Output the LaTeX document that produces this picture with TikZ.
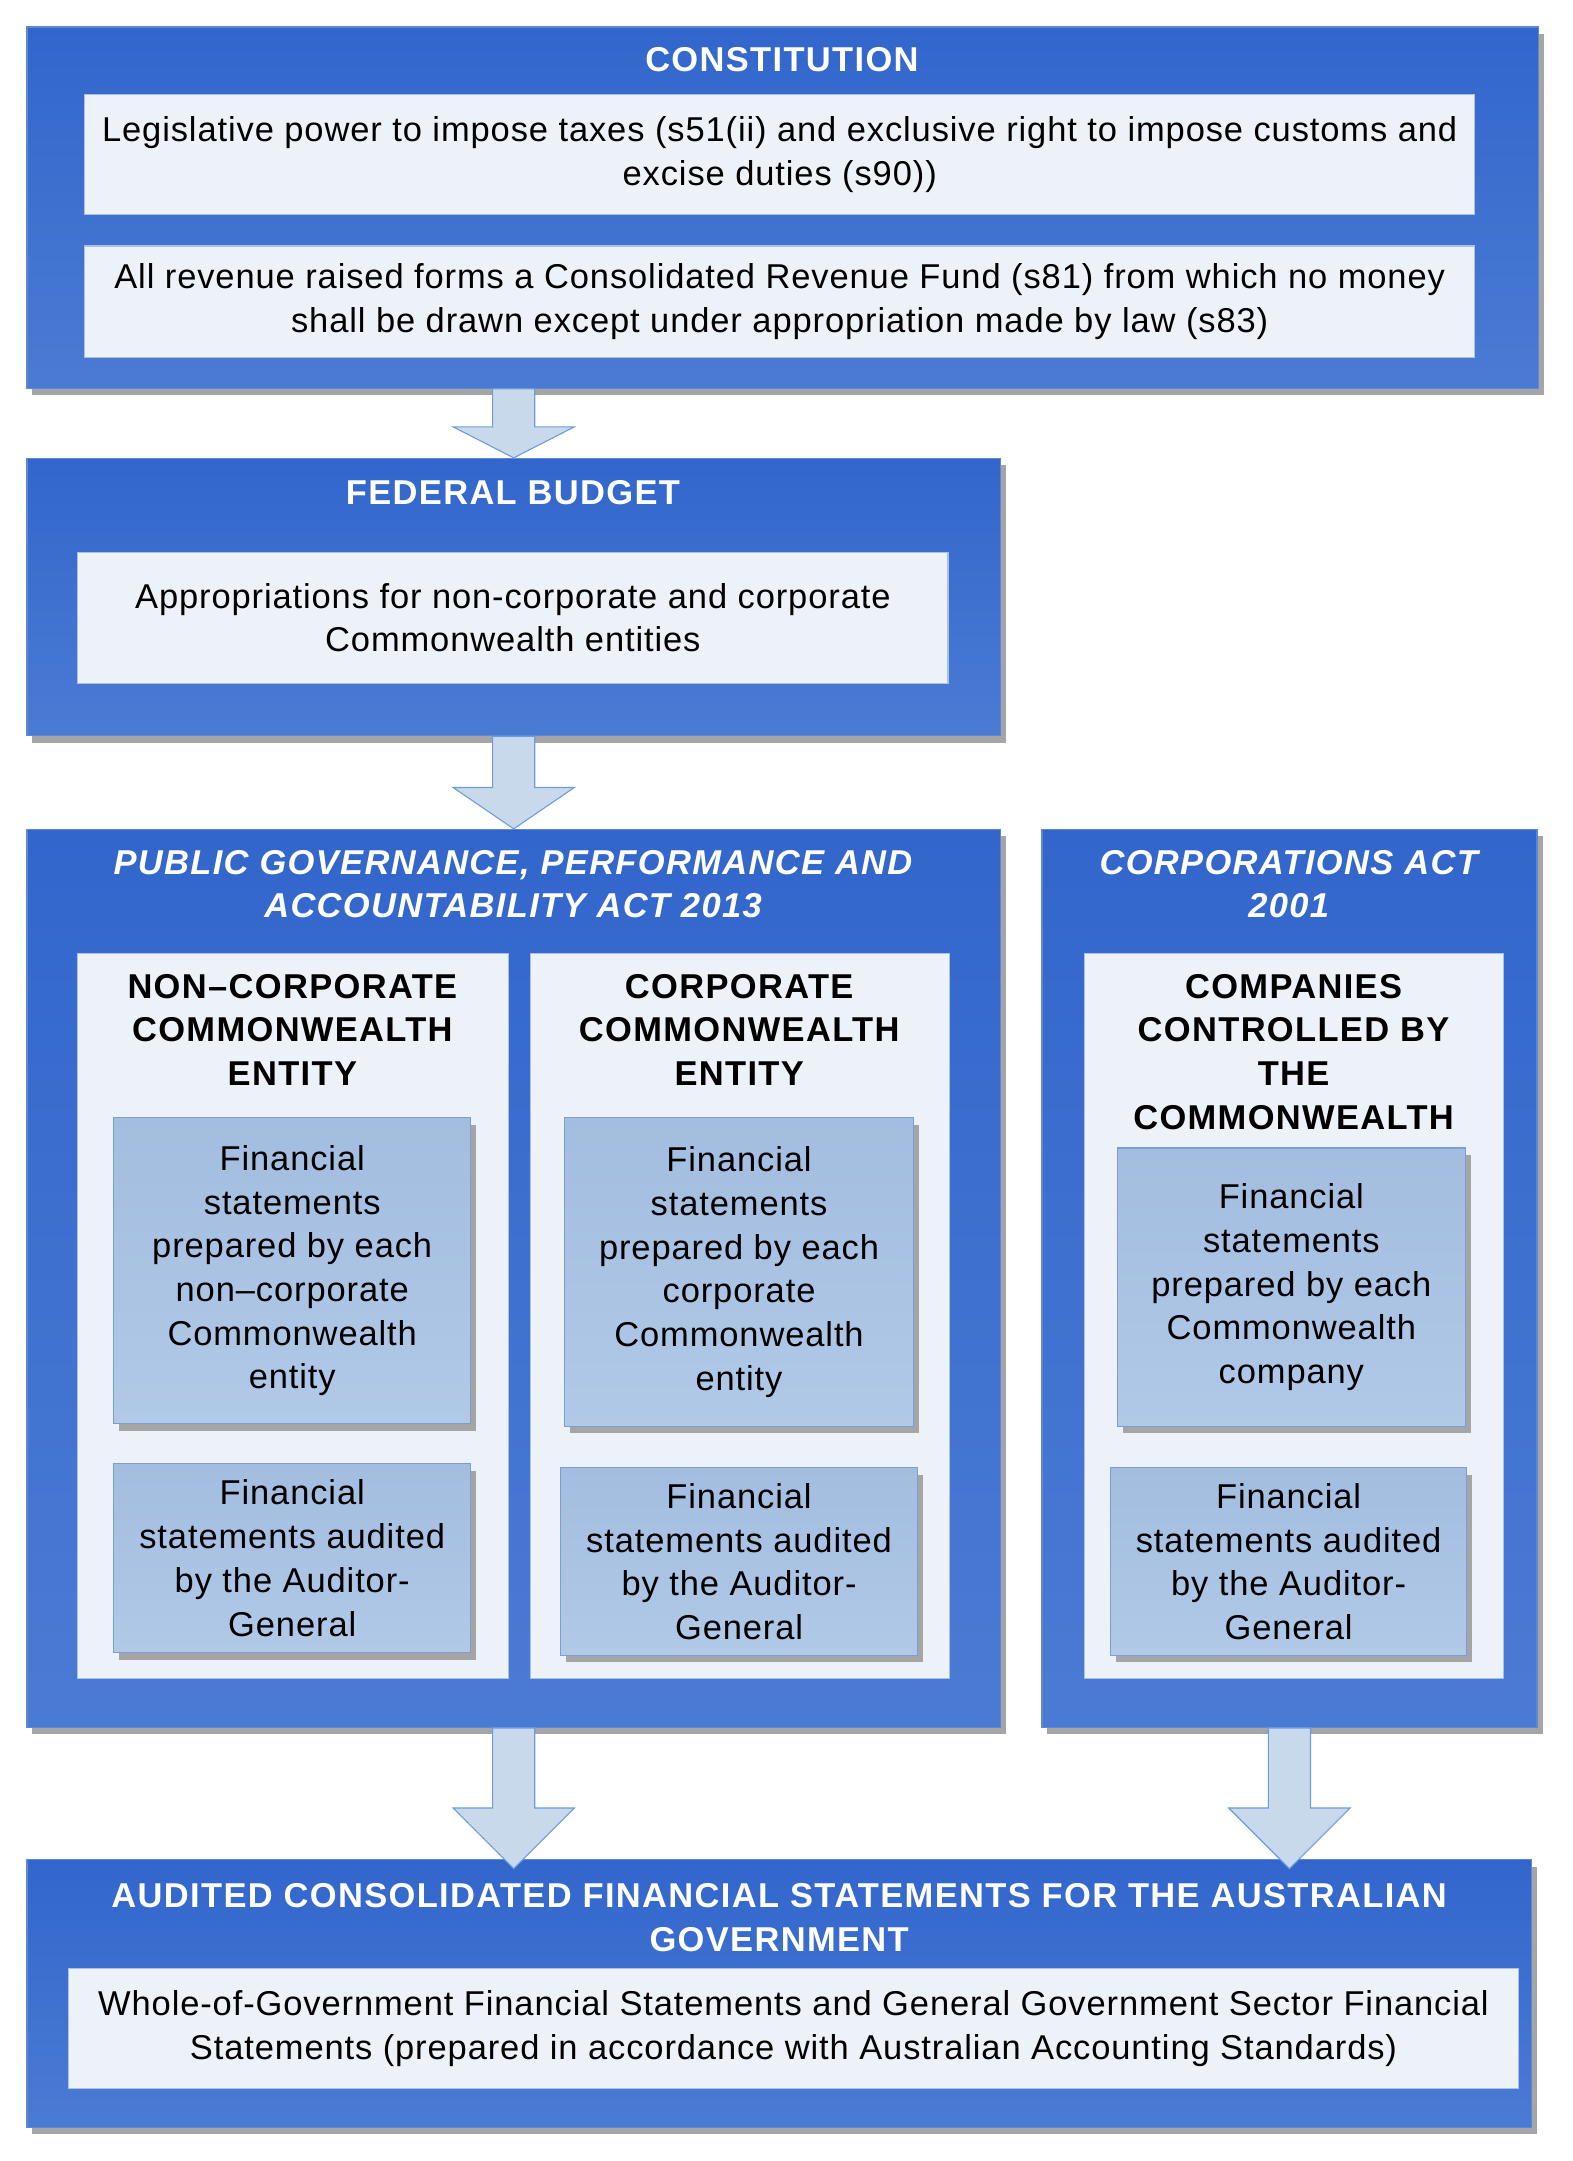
\documentclass[tikz,border=0pt]{standalone}
\usepackage{fontspec}
\setmainfont{Liberation Sans}[LetterSpace=2.6,
  BoldFeatures={LetterSpace=3.9}, BoldItalicFeatures={LetterSpace=3.9}]
\usetikzlibrary{calc,shadows}
\definecolor{outertop}{RGB}{51,102,204}
\definecolor{outerbot}{RGB}{74,123,212}
\definecolor{outerline}{RGB}{95,135,215}
\definecolor{lightfill}{RGB}{237,242,249}
\definecolor{lightline}{RGB}{170,192,228}
\definecolor{subtop}{RGB}{163,189,224}
\definecolor{subbot}{RGB}{177,201,231}
\definecolor{subline}{RGB}{120,158,215}
\definecolor{shadowgray}{RGB}{165,165,165}
\definecolor{arrowfill}{RGB}{201,217,236}
\definecolor{arrowline}{RGB}{110,155,218}
\newcommand\mybody{\fontsize{25}{31.7}\selectfont}
\newcommand\bigarrow[3]{%
  \draw[arrowsty] ($(#1)+(-15.25,0)$) -- ($(#2)+(-15.25,-#3)$) -- ($(#2)+(-44,-#3)$) -- (#2)
     -- ($(#2)+(44,-#3)$) -- ($(#2)+(15.25,-#3)$) -- ($(#1)+(15.25,0)$) -- cycle;}
\begin{document}
\begin{tikzpicture}[x=1pt,y=-1pt,
  outerbox/.style={draw=outerline, line width=1pt, top color=outertop, bottom color=outerbot,
    drop shadow={shadow xshift=4pt, shadow yshift=-5pt, fill=shadowgray, opacity=1},
    inner sep=0pt, anchor=north west},
  lightbox/.style={draw=lightline, line width=0.8pt, fill=lightfill, inner sep=0pt,
    anchor=north west, align=center, font=\mybody},
  subbox/.style={draw=subline, line width=0.8pt, top color=subtop, bottom color=subbot,
    drop shadow={shadow xshift=4pt, shadow yshift=-5pt, fill=shadowgray, opacity=1},
    inner sep=0pt, anchor=north west, align=center, font=\mybody},
  titletext/.style={text=white, font=\mybody\bfseries, align=center, inner sep=0pt},
  headtext/.style={font=\mybody\bfseries, align=center, inner sep=0pt},
  arrowsty/.style={draw=arrowline, line width=0.8pt, fill=arrowfill}
]
\useasboundingbox (0,0) rectangle (1140,1567);
\fill[white] (0,0) rectangle (1140,1567);

% Constitution
\node[outerbox, minimum width=1096pt, minimum height=262pt] (const) at (19,19) {};
\node[titletext] (constt) at (567,43.5) {CONSTITUTION};
\node[lightbox, minimum width=1008pt, minimum height=87pt] (c1) at (61,68)
  {Legislative power to impose taxes (s51(ii) and exclusive right to impose customs and\\ excise duties (s90))};
\node[lightbox, minimum width=1008pt, minimum height=81pt] (c2) at (61,178)
  {All revenue raised forms a Consolidated Revenue Fund (s81) from which no money\\ shall be drawn except under appropriation made by law (s83)};

% Federal budget
\node[outerbox, minimum width=706pt, minimum height=201pt] (fed) at (19,332) {};
\node[titletext] (fedt) at (372,357) {FEDERAL BUDGET};
\node[lightbox, minimum width=631pt, minimum height=95pt] (f1) at (56,400)
  {Appropriations for non-corporate and corporate\\ Commonwealth entities};

% PGPA
\node[outerbox, minimum width=706pt, minimum height=651pt] (pgpa) at (19,601) {};
\node[titletext, font=\mybody\bfseries\itshape] (pgpat) at (372,641)
  {PUBLIC GOVERNANCE, PERFORMANCE AND\\ ACCOUNTABILITY ACT 2013};
\node[lightbox, minimum width=312pt, minimum height=526pt] (colA) at (56,691) {};
\node[headtext] (colAh) at (212,746.7) {NON–CORPORATE\\ COMMONWEALTH\\ ENTITY};
\node[subbox, minimum width=259pt, minimum height=222pt] (A1) at (82,810)
  {Financial\\ statements\\ prepared by each\\ non–corporate\\ Commonwealth\\ entity};
\node[subbox, minimum width=259pt, minimum height=137pt] (A2) at (82,1061)
  {Financial\\ statements audited\\ by the Auditor-\\ General};
\node[lightbox, minimum width=304pt, minimum height=526pt] (colB) at (384,691) {};
\node[headtext] (colBh) at (536,746.7) {CORPORATE\\ COMMONWEALTH\\ ENTITY};
\node[subbox, minimum width=253pt, minimum height=224pt] (B1) at (409,810)
  {Financial\\ statements\\ prepared by each\\ corporate\\ Commonwealth\\ entity};
\node[subbox, minimum width=259pt, minimum height=136pt] (B2) at (406,1064)
  {Financial\\ statements audited\\ by the Auditor-\\ General};

% Corporations Act
\node[outerbox, minimum width=359pt, minimum height=651pt] (corp) at (755,601) {};
\node[titletext, font=\mybody\bfseries\itshape] (corpt) at (934.5,641)
  {CORPORATIONS ACT\\ 2001};
\node[lightbox, minimum width=304pt, minimum height=526pt] (colC) at (786,691) {};
\node[headtext] (colCh) at (938,762.7) {COMPANIES\\ CONTROLLED BY\\ THE\\ COMMONWEALTH};
\node[subbox, minimum width=252pt, minimum height=202pt] (C1) at (810,832)
  {Financial\\ statements\\ prepared by each\\ Commonwealth\\ company};
\node[subbox, minimum width=258pt, minimum height=136pt] (C2) at (805,1064)
  {Financial\\ statements audited\\ by the Auditor-\\ General};

% Bottom
\node[outerbox, minimum width=1091pt, minimum height=194pt] (bottom) at (19,1348) {};
\node[titletext] (bottomt) at (565,1390.3)
  {AUDITED CONSOLIDATED FINANCIAL STATEMENTS FOR THE AUSTRALIAN\\ GOVERNMENT};
\node[lightbox, minimum width=1052pt, minimum height=87pt] (b1) at (49,1427)
  {Whole-of-Government Financial Statements and General Government Sector Financial\\ Statements (prepared in accordance with Australian Accounting Standards)};

% Arrows
\coordinate (a1top) at (const.south -| fed.north);
\bigarrow{a1top}{fed.north}{22.5}
\bigarrow{fed.south}{pgpa.north}{30}
\coordinate (a3tip) at ($(pgpa.south |- bottom.north)+(0,7)$);
\bigarrow{pgpa.south}{a3tip}{44}
\coordinate (a4tip) at ($(corp.south |- bottom.north)+(0,7)$);
\bigarrow{corp.south}{a4tip}{44}
\end{tikzpicture}
\end{document}
